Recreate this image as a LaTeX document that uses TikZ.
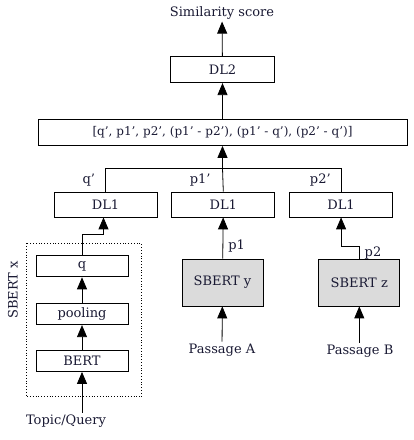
\documentclass[tikz,border=0pt]{standalone}
\usepackage{fontspec}
\setmainfont{DejaVu Serif}
\usetikzlibrary{positioning,arrows.meta}
\definecolor{inkblue}{rgb}{0.1,0.1,0.2}
\definecolor{sbertgray}{gray}{0.86}

\tikzset{
  box/.style={draw, line width=0.8pt, inner sep=0pt, text=inkblue, font=\fontsize{13}{15}\selectfont},
  dl/.style={box, minimum width=103pt, minimum height=25pt},
  enc/.style={box, minimum width=92pt, minimum height=21pt},
  sbert/.style={box, fill=sbertgray, minimum width=81pt, minimum height=47pt},
  txt/.style={text=inkblue, inner sep=2pt, font=\fontsize{13}{15}\selectfont},
  lab/.style={txt, inner sep=1pt},
  arr/.style={line width=0.8pt, -{Triangle[width=10pt,length=12pt]}},
  ln/.style={line width=0.8pt},
}

\begin{document}
\begin{tikzpicture}[x=1pt,y=1pt]
\useasboundingbox (0,0) rectangle (414,440);

% SBERT x
\node[enc] (bert) at (82,79) {BERT};
\node[enc] (pool) [above=25pt of bert] {pooling};
\node[enc] (q) [above=26pt of pool] {q};
\draw[ln, dotted] ([xshift=-9pt,yshift=12pt]q.north west) rectangle ([xshift=13pt,yshift=-25pt]bert.south east);
\node[txt, rotate=90] (sbx) at (13,150) {SBERT x};
\node[txt] (topic) at (66,19) {Topic/Query};

% SBERT y, SBERT z
\node[sbert] (sby) at (222.5,157.5) {SBERT y};
\node[sbert] (sbz) [right=55pt of sby] {SBERT z};
\node[txt] (pasa) at (222,90) {Passage A};
\node[txt] (pasb) at (360,89) {Passage B};

% dense layers
\node[dl] (dlq) at (105.5,235.5) {DL1};
\node[dl] (dla) [right=14pt of dlq] {DL1};
\node[dl] (dlb) [right=14pt of dla] {DL1};
\node[box, minimum width=369pt, minimum height=26pt, font=\fontsize{12}{14}\selectfont] (cat) at (222.5,307.5)
  {[q’, p1’, p2’, (p1’ - p2’), (p1’ - q’), (p2’ - q’)]};
\node[dl, minimum width=104pt, minimum height=26pt] (dl2) [above=36pt of cat] {DL2};
\node[txt] (score) at (222,427) {Similarity score};
\coordinate (bus) at (222.5,272);

\draw[arr] (bert.south |- topic.north) -- (bert.south);
\draw[arr] (bert) -- (pool);
\draw[arr] (pool) -- (q);
\draw[arr] (q.north) -- ++(0,21) -| ([xshift=-2pt]dlq.south);
\draw[arr] (pasa) -- (sby);
\draw[arr] (sbz.south |- pasb.north) -- (sbz.south);
\draw[arr] (sby) -- node[lab, right=4pt, pos=0.3] {p1} (dla);
\draw[arr] (sbz.north) -- ++(0,12) node[lab, right=4pt, pos=0.5] {p2} -| (dlb.south);

\draw[ln] (dlq.north) -- node[lab, left=9pt] {q’} (dlq.north |- bus) -- (dlb.north |- bus)
  -- node[lab, left=9pt] {p2’} (dlb.north);
\draw[ln] (dla.north) -- node[lab, left=11pt] {p1’} (bus);
\draw[arr] (bus) -- (cat.south);
\draw[arr] (cat) -- (dl2);
\draw[arr] (dl2) -- (score);
\end{tikzpicture}
\end{document}
